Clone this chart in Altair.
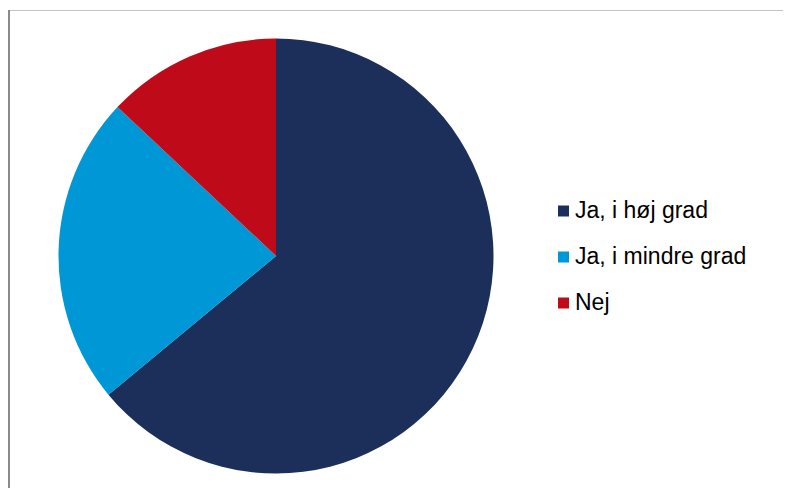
import altair as alt
import pandas as pd

categories = ["Ja, i høj grad", "Ja, i mindre grad", "Nej"]
values = [64, 23, 13]
colors = ["#1B2F5A", "#0097D7", "#BE0A19"]

df = pd.DataFrame({"cat": categories, "val": values, "idx": list(range(len(categories)))})

pie = alt.Chart(df).mark_arc(radius=217.5, stroke=None).encode(
    theta=alt.Theta("val:Q", stack=True),
    color=alt.Color(
        "cat:N",
        scale=alt.Scale(domain=categories, range=colors),
        sort=categories,
        legend=alt.Legend(
            title=None,
            orient="none",
            legendX=544,
            legendY=191.5,
            symbolType="square",
            symbolSize=121,
            symbolStrokeWidth=0,
            labelFont="Liberation Sans",
            labelFontSize=23,
            labelColor="#000000",
            labelOffset=0,
            rowPadding=22,
            padding=0,
            labelLimit=400,
        ),
    ),
    order=alt.Order("idx:Q"),
    x=alt.value(268),
    y=alt.value(248),
)

frame_data = alt.Data(values=[{"a": 1}])
left_line = alt.Chart(frame_data).mark_rule(color="#8a8a8a", strokeWidth=2).encode(
    x=alt.value(1), y=alt.value(2), y2=alt.value(480)
)
top_line = alt.Chart(frame_data).mark_rule(color="#c4c4c4", strokeWidth=1).encode(
    x=alt.value(0), x2=alt.value(775), y=alt.value(2.5)
)

chart = alt.layer(pie, top_line, left_line).properties(
    width=775,
    height=480,
    autosize=alt.AutoSizeParams(type="none"),
    padding=0,
).configure_view(stroke=None)

chart.save("out.html", embed_options={"renderer": "svg", "actions": False})
